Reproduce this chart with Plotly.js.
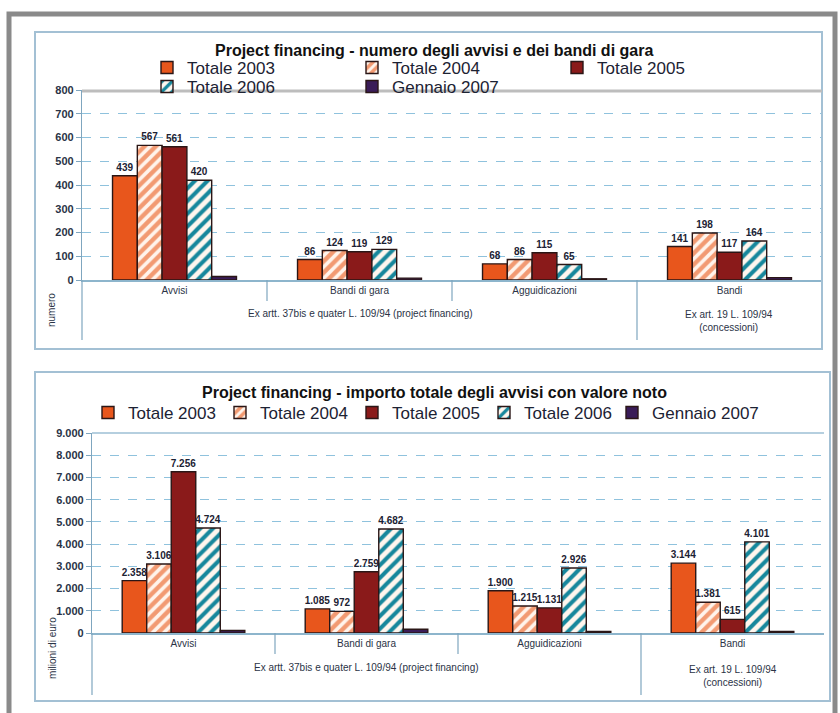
<!DOCTYPE html>
<html>
<head>
<meta charset="utf-8">
<script src="https://cdn.plot.ly/plotly-3.0.1.min.js"></script>
<style>
html,body{margin:0;padding:0;background:#ffffff;}
#chart{width:840px;height:713px;}
</style>
</head>
<body>
<div id="chart"></div>
<script>
// ---- data ----
const categories = ['Avvisi', 'Bandi di gara', 'Agguidicazioni', 'Bandi'];
const seriesNames = ['Totale 2003', 'Totale 2004', 'Totale 2005', 'Totale 2006', 'Gennaio 2007'];

// Chart 1: numero degli avvisi e dei bandi di gara
const numero2003 = [439, 86, 68, 141];
const numero2004 = [567, 124, 86, 198];
const numero2005 = [561, 119, 115, 117];
const numero2006 = [420, 129, 65, 164];
const numeroGen2007 = [15, 8, 5, 10];

// Chart 2: importo totale (milioni di euro)
const importo2003 = [2358, 1085, 1900, 3144];
const importo2004 = [3106, 972, 1215, 1381];
const importo2005 = [7256, 2759, 1131, 615];
const importo2006 = [4724, 4682, 2926, 4101];
const importoGen2007 = [110, 170, 70, 70];

const title1 = 'Project financing - numero degli avvisi e dei bandi di gara';
const title2 = 'Project financing - importo totale degli avvisi con valore noto';
const groupLabel1 = 'Ex artt. 37bis e quater L. 109/94 (project financing)';
const groupLabel2 = 'Ex art. 19 L. 109/94<br>(concessioni)';
const yTitle1 = 'numero';
const yTitle2 = 'milioni di euro';

// ---- styles ----
const W = 840, H = 713;
const px = x => x / W;
const py = y => 1 - y / H;
const FONT = 'Liberation Sans, Arial, sans-serif';
const TXT = '#1c2233';
const outline = {color: '#2a1616', width: 1.4};
const styles = [
  {color: '#e8561c', line: outline},
  {color: '#f3a37e', line: outline, pattern: {shape: '/', fgcolor: '#fff4ec', bgcolor: '#f29a72', size: 8, solidity: 0.45}},
  {color: '#8a1a1a', line: outline},
  {color: '#ffffff', line: outline, pattern: {shape: '/', fgcolor: '#17879c', bgcolor: '#fff6ee', size: 9, solidity: 0.45}},
  {color: '#3a1c58', line: outline}
];

const chart1 = [numero2003, numero2004, numero2005, numero2006, numeroGen2007];
const chart2 = [importo2003, importo2004, importo2005, importo2006, importoGen2007];

const traces = [];
chart1.forEach((vals, i) => {
  traces.push({
    type: 'bar', x: categories, y: vals, name: seriesNames[i],
    xaxis: 'x', yaxis: 'y',
    marker: styles[i],
    legend: i < 3 ? 'legend' : 'legend3',
    texttemplate: i < 4 ? '%{y}' : '',
    textposition: 'outside', cliponaxis: false, constraintext: 'none',
    textfont: {family: FONT, size: 10, color: TXT, weight: 'bold'},
    hoverinfo: 'x+y+name'
  });
});
chart2.forEach((vals, i) => {
  traces.push({
    type: 'bar', x: categories, y: vals, name: seriesNames[i],
    xaxis: 'x2', yaxis: 'y2',
    marker: styles[i],
    legend: i < 4 ? 'legend2' : 'legend4',
    texttemplate: i < 4 ? '%{y:,d}' : '',
    textposition: 'outside', cliponaxis: false, constraintext: 'none',
    textfont: {family: FONT, size: 10, color: TXT, weight: 'bold'},
    hoverinfo: 'x+y+name'
  });
});

const yAxisCommon = {
  showgrid: true, gridcolor: '#8fc2dd', griddash: 'dash', gridwidth: 1,
  zeroline: false, showline: true, linecolor: '#7fa6bf', linewidth: 1.2,
  ticks: 'outside', ticklen: 5, tickcolor: '#7fa6bf',
  tickfont: {family: FONT, size: 11, color: '#2a3346', weight: 'bold'},
  fixedrange: true
};
const xAxisCommon = {
  type: 'category', showline: true, linecolor: '#8db5cc', linewidth: 1.5,
  ticks: '', showgrid: false, zeroline: false,
  tickfont: {family: FONT, size: 10, color: '#2a3346'},
  fixedrange: true
};

const legendCommon = {
  orientation: 'h', xanchor: 'left', yanchor: 'middle', bgcolor: 'rgba(0,0,0,0)',
  entrywidthmode: 'pixels',
  font: {family: FONT, size: 17, color: TXT}, itemclick: false, itemdoubleclick: false
};

const ann = (text, x, y, size, extra) => Object.assign({
  text: text, xref: 'paper', yref: 'paper', x: px(x), y: py(y), showarrow: false,
  xanchor: 'center', yanchor: 'middle', align: 'center',
  font: {family: FONT, size: size, color: '#2a3346'}
}, extra || {});

const vline = (x, y0, y1) => ({type: 'line', xref: 'paper', yref: 'paper', x0: px(x), x1: px(x), y0: py(y0), y1: py(y1),
  line: {color: '#7fa6bf', width: 1.2}});

const layout = {
  width: W, height: H,
  margin: {l: 0, r: 0, t: 0, b: 0},
  paper_bgcolor: '#ffffff', plot_bgcolor: 'rgba(0,0,0,0)',
  separators: ',.',
  barmode: 'group', bargap: 0.33, bargroupgap: 0,
  showlegend: true,
  font: {family: FONT, color: TXT},
  xaxis: Object.assign({}, xAxisCommon, {domain: [px(82), px(822)], anchor: 'y'}),
  yaxis: Object.assign({}, yAxisCommon, {domain: [py(280), py(90)], range: [0, 800], dtick: 100, anchor: 'x'}),
  xaxis2: Object.assign({}, xAxisCommon, {domain: [px(92), px(824)], anchor: 'y2'}),
  yaxis2: Object.assign({}, yAxisCommon, {domain: [py(633), py(433)], range: [0, 9000], dtick: 1000, tickformat: ',d', anchor: 'x2'}),
  legend: Object.assign({}, legendCommon, {x: px(147), y: py(68), entrywidth: 160}),
  legend3: Object.assign({}, legendCommon, {x: px(147), y: py(87), entrywidth: 160}),
  legend2: Object.assign({}, legendCommon, {x: px(88), y: py(413), entrywidth: 87}),
  legend4: Object.assign({}, legendCommon, {x: px(612), y: py(413), entrywidth: 0}),
  annotations: [
    ann('<b>' + title1 + '</b>', 434, 50, 16, {font: {family: FONT, size: 16, color: '#111'}}),
    ann('<b>' + title2 + '</b>', 434, 392, 16, {font: {family: FONT, size: 16, color: '#111'}}),
    ann(groupLabel1, 360, 313, 10),
    ann(groupLabel2, 729, 321, 10),
    ann(groupLabel1, 366, 667, 10),
    ann(groupLabel2, 733, 676, 10),
    ann(yTitle1, 52, 310, 10, {textangle: -90}),
    ann(yTitle2, 52, 648, 10, {textangle: -90})
  ],
  shapes: [
    // outer scanned frame
    {type: 'rect', xref: 'paper', yref: 'paper', x0: px(9), x1: px(835), y0: py(740), y1: py(14),
      line: {color: '#8a8a8a', width: 5}},
    // chart boxes
    {type: 'rect', xref: 'paper', yref: 'paper', x0: px(35), x1: px(822), y0: py(349), y1: py(32),
      line: {color: '#a3c0d4', width: 2}},
    {type: 'rect', xref: 'paper', yref: 'paper', x0: px(35), x1: px(830), y0: py(701), y1: py(372),
      line: {color: '#a3c0d4', width: 2}},
    // plot top borders
    {type: 'line', xref: 'paper', yref: 'paper', x0: px(82), x1: px(822), y0: py(91), y1: py(91),
      line: {color: '#bdbdbd', width: 3}},
    {type: 'line', xref: 'paper', yref: 'paper', x0: px(92), x1: px(824), y0: py(433), y1: py(433),
      line: {color: '#9cbfd4', width: 1.5}},
    // y-axis extensions into label area
    vline(82, 280, 340),
    vline(92, 633, 695),
    // category dividers chart 1
    vline(267, 280, 301), vline(452, 280, 301), vline(637, 280, 340),
    // category dividers chart 2
    vline(275, 633, 654), vline(458, 633, 654), vline(641, 633, 695)
  ]
};

Plotly.newPlot('chart', traces, layout, {displayModeBar: false});
</script>
</body>
</html>
